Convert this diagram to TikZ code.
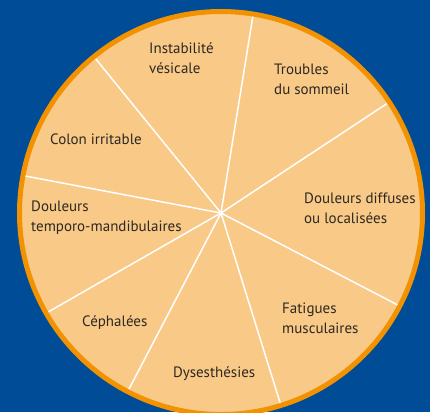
\documentclass[tikz,border=0pt]{standalone}
\usepackage{fontspec}
\setmainfont{PT Sans}
\usetikzlibrary{calc}
\definecolor{bgblue}{RGB}{0,76,151}
\definecolor{peach}{RGB}{248,201,135}
\definecolor{ringorange}{RGB}{243,146,0}
\definecolor{txt}{RGB}{45,40,35}
\begin{document}
\begin{tikzpicture}[x=1pt,y=-1pt,
  lbl/.style={text=txt, font=\fontsize{15}{20}\selectfont, align=left, inner sep=0pt, anchor=west},
  spoke/.style={white, line width=1.5pt},
  ring/.style={ringorange, line width=5pt}]
\clip (0,0) rectangle (430,412);
\fill[bgblue] (0,0) rectangle (430,412);
\coordinate (c) at (221,213);
\fill[peach] (c) circle[radius=202];
\foreach \a [count=\i] in {129.1,80.8,33.4,-27.5,-72.7,-117.6,-150.2,169.3}
  \coordinate (p\i) at ($(c)+(-\a:202)$);
\foreach \i in {1,...,8} \draw[spoke] (c) -- (p\i);
\draw[ring] (c) circle[radius=201.5];
\node[lbl] (n1) at (149,58) {Instabilité\\vésicale};
\node[lbl] (n2) at (274,79) {Troubles\\du sommeil};
\node[lbl] (n3) at (50,139) {Colon irritable};
\node[lbl] (n4) at (304,208) {Douleurs diffuses\\ou localisées};
\node[lbl] (n5) at (31,217.5) {Douleurs\\temporo-mandibulaires};
\node[lbl] (n6) at (82,323) {Céphalées};
\node[lbl] (n7) at (173,374) {Dysesthésies};
\node[lbl] (n8) at (282,318.5) {Fatigues\\musculaires};
\end{tikzpicture}
\end{document}
